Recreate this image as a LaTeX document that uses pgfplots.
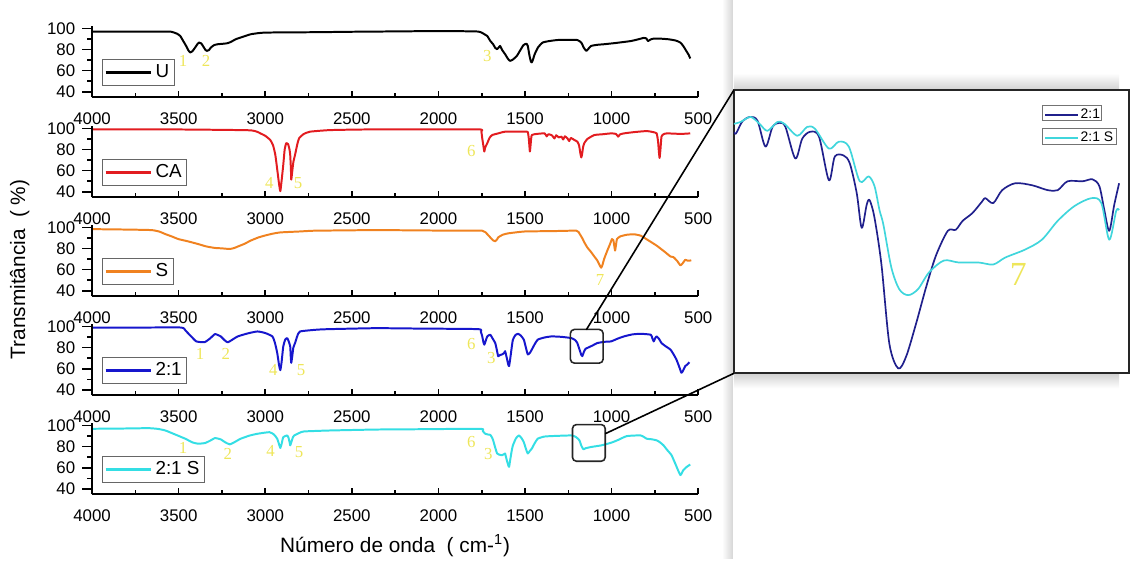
\documentclass[border=0pt]{standalone}
\usepackage{fontspec}
\setmainfont{Liberation Sans}
\newfontfamily\numserif{Liberation Serif}
\usepackage{pgfplots}
\usepackage{pgfplotstable}
\pgfplotsset{compat=1.18}

\definecolor{cU}{RGB}{0,0,0}
\definecolor{cCA}{RGB}{226,28,32}
\definecolor{cS}{RGB}{240,130,32}
\definecolor{cTwo}{RGB}{22,22,205}
\definecolor{cTwoS}{RGB}{52,222,228}
\definecolor{cNavy}{RGB}{32,32,140}
\definecolor{cCyan}{RGB}{64,214,220}
\definecolor{annY}{RGB}{238,230,90}

% ---- spectra (wavenumber, transmittance) ----
\pgfplotstableread{
x y
4000 97
3800 97
3600 97
3542 96.8
3510 95
3491 92.8
3470 87
3457 83.4
3445 79.5
3434 77.2
3420 78.5
3405 81.9
3390 85.5
3382 86.6
3370 85.8
3360 83.4
3345 79.5
3337 78.7
3325 79.5
3314 81.9
3295 84.2
3274 85
3240 85.5
3217 86
3195 87.5
3171 89.7
3130 92
3085 94.4
3040 95.5
3005 96
2900 96.2
2700 96.4
2500 96.8
2200 97.2
2016 97.5
1900 97.4
1770 97
1745 95.5
1730 94
1718 92.8
1700 88
1684 85
1672 81.5
1661 80.3
1652 81.8
1644 83.4
1630 79
1615 75.6
1600 71.5
1587 69.3
1570 70.5
1547 74
1525 80
1510 84
1501 85
1492 85.5
1484 83.4
1474 74
1466 68.5
1461 67.8
1455 70
1444 75.6
1425 82
1398 86.6
1360 88
1312 89
1250 89.2
1198 89
1175 86.5
1160 81.5
1146 78.7
1135 80.5
1118 83.4
1080 84.5
1043 85
970 86.3
889 88
850 89.5
814 91
800 90.6
790 88
775 89.5
757 90.3
720 90.3
672 89.7
630 88.5
603 86.6
585 83
569 78.7
555 75
546 71.5
}\dU

\pgfplotstableread{
x y
4000 99
3500 99
3102 98.3
3050 97
3028 95.3
3000 93
2971 89
2955 84
2942 75
2930 60
2920 47
2913 40.6
2906 50
2896 65.6
2888 80
2879 86
2868 85
2860 80
2856 75
2852 62
2850 51.5
2845 58
2838 68
2828 75
2815 85
2805 90.6
2780 94.5
2742 96.9
2627 98.4
2416 99
2000 99
1758 99
1752 97
1747 90.6
1740 83
1735 78.1
1730 82
1718 86
1705 91
1690 93.7
1650 95.5
1615 96.9
1500 96.9
1484 96.5
1478 90
1472 78.1
1467 86
1461 93.7
1430 94.8
1387 95.3
1375 92.5
1365 94.5
1345 93.5
1330 90.5
1320 93.5
1305 91.5
1289 92.2
1280 89.5
1270 92.5
1255 90.6
1245 88
1235 91
1215 89
1198 87.5
1188 84
1180 76
1175 72.5
1170 76
1165 82
1158 86
1140 90
1100 93.7
1050 94.5
1003 95.3
975 94.8
962 92.2
952 94.3
929 95.3
870 96.5
797 97.5
760 96.5
740 95.3
732 88
727 78
723 72
718 80
712 92.2
700 94.5
680 95.3
600 94.8
546 95.3
}\dCA

\pgfplotstableread{
x y
4000 98.4
3800 98
3657 97.5
3610 96
3577 93.7
3540 91.5
3502 89
3450 87
3388 84.3
3340 82
3291 80.6
3250 80.2
3205 79.6
3180 80.5
3159 81.9
3120 84.5
3085 87.5
3040 90.5
3005 92.2
2960 94
2913 95.3
2800 96.2
2719 96.9
2500 97.3
2359 97.5
2100 97.2
1900 96.9
1747 96.9
1720 94
1701 90.6
1685 87.8
1672 86.9
1662 88.5
1655 90.6
1630 93
1598 94.4
1501 96.2
1350 96.5
1203 96.9
1185 94
1170 90
1158 86
1140 81
1118 76.6
1100 72.5
1083 68.8
1070 64.5
1060 61.9
1052 65
1043 70.3
1025 78
1009 84.3
998 89
990 88
985 83
980 78.1
975 83
969 89
950 91.5
912 93.1
870 93.5
832 92.2
790 88
740 82.8
690 76.5
660 72.5
643 71.9
620 68
603 64.1
590 66
575 69.3
560 68.5
540 68.8
}\dS

\pgfplotstableread{
x y
4000 99
3700 99
3485 99
3460 96
3428 90.6
3399 85.9
3370 85.2
3348 85.3
3320 88.5
3291 92.8
3275 92
3257 90.6
3235 87
3217 85
3195 87
3159 90.6
3100 93.5
3045 95.3
3000 93.8
2959 90.6
2945 85
2931 75
2920 63
2913 58.7
2906 66
2896 81.2
2885 87.5
2873 89
2865 86
2856 81.2
2853 72
2850 65.6
2844 72
2838 80
2828 84.3
2815 91
2799 95.3
2700 97
2627 97.5
2359 98.4
2100 98
1770 97.5
1755 95
1747 90.6
1740 85
1735 82.8
1728 86
1718 90.6
1701 92.2
1685 88
1672 84.3
1663 78
1655 71.9
1645 73
1633 73.5
1620 75
1615 76.6
1605 70
1597 64
1592 62.5
1585 70
1577 80
1570 87.5
1555 92
1541 93.1
1525 91.5
1507 87.5
1495 80
1484 73.5
1472 75
1461 78.1
1445 83
1427 87.5
1390 89.5
1347 90.6
1290 90.2
1232 89
1210 87
1198 84.3
1185 78
1175 73
1169 71.9
1160 76
1150 79
1140 79.7
1110 82
1083 84.3
1040 85.5
1003 85.9
965 88.5
929 90.6
880 92.5
832 93.1
774 92.2
765 89
757 85.9
748 89
740 90.6
725 88
712 84.3
690 81.5
660 78.1
640 73
626 68.8
610 62
597 56.2
588 58
575 62.5
563 64
551 66.2
}\dTwo

\pgfplotstableread{
x y
4000 96.9
3800 97.2
3674 97.5
3620 96.8
3577 95.3
3520 91.5
3462 87.5
3420 84
3388 82.8
3348 83.4
3320 85.5
3291 88.1
3270 87.5
3257 86.9
3230 84
3205 82.2
3175 84.5
3142 87.5
3090 90.5
3045 92.2
2976 93.7
2950 91.5
2931 87.5
2920 82
2913 78.7
2905 83
2896 89
2873 90.6
2865 88
2858 83
2856 81.2
2850 84
2840 89
2833 90.6
2800 93.2
2776 94.4
2627 95.3
2359 96.2
2100 96.5
1758 96.9
1745 95
1730 92.2
1715 91.5
1701 91.2
1690 88.5
1684 86
1672 79
1661 73.5
1650 72.5
1633 71.9
1620 73
1615 73.5
1605 67
1597 62.5
1592 60.9
1585 68
1577 76
1570 81.2
1552 88
1535 90.6
1520 88
1507 84.3
1495 78
1484 73.5
1472 76
1461 78.1
1445 83
1427 87.5
1390 89.5
1347 90
1232 90.6
1205 89
1186 86
1175 81
1163 77.5
1150 78.5
1118 79.7
1060 81.2
1003 83.7
960 86.5
912 90
832 90.6
797 87.5
770 87
740 86
720 84
700 81.2
680 77
654 71.9
630 63
603 53.1
586 57.8
565 61
546 63.1
}\dTwoS

% ---- inset (zoomed region) ----
\pgfplotstableread{
x y
1240 93.67
1239 93.37
1235.5 95.33
1231.5 95.93
1228 95.33
1224 91.42
1220.4 94.42
1216.9 95.03
1213.9 94.42
1208.9 89.62
1205.4 92.62
1201.4 93.67
1196.9 92.92
1191.9 86.31
1188.9 89.92
1184.4 90.07
1181.3 88.86
1177.8 84.35
1175.3 79.09
1172.8 82.55
1171.3 83.30
1168.8 80.60
1165.3 73.53
1161.3 61.51
1156.8 57.75
1152.8 59.56
1147.8 64.52
1142.7 70.08
1137.7 74.89
1131.7 78.64
1127.7 78.79
1124.2 80.15
1119.2 81.35
1114.2 83.15
1112.7 83.60
1108.7 82.85
1104.2 84.81
1097.6 85.86
1089.1 85.56
1081.1 84.81
1076.1 84.81
1071.1 86.16
1063.5 86.16
1058.5 86.46
1055.0 85.41
1052.5 81.80
1050.0 78.64
1047.5 82.55
1045.0 85.86
}\dInTwo

\pgfplotstableread{
x y
1240 94.88
1236.5 95.18
1231.5 95.93
1227.0 94.88
1223.0 93.82
1217.9 95.18
1214.4 94.88
1207.9 93.07
1202.9 94.42
1198.9 94.12
1191.9 91.12
1186.9 92.17
1181.8 91.42
1176.3 86.16
1171.8 86.91
1168.8 85.41
1166.3 81.80
1164.3 79.55
1160.3 73.08
1156.3 69.78
1151.8 68.87
1146.8 69.78
1141.2 72.33
1133.7 74.13
1126.2 73.83
1116.2 73.83
1108.7 73.53
1102.6 74.59
1092.6 75.79
1084.1 77.29
1076.1 80.15
1067.6 82.40
1059.0 83.60
1054.0 82.85
1050.0 77.29
1046.5 81.65
1045.0 81.80
}\dInTwoS

\pgfplotsset{
  panel/.style={
    scale only axis, width=306pt, height=35.733pt,
    xmin=500, xmax=4000, x dir=reverse, ymin=35, ymax=102,
    anchor=south west, clip=false,
    axis x line*=bottom, axis y line*=left,
    axis line style={line width=0.8pt},
    every tick/.style={black, line width=0.8pt},
    ticklabel style={font=\fontsize{8.5}{9}\selectfont},
    /pgf/number format/1000 sep={},
    /pgf/number format/assume math mode=true,
  },
  xpart/.style={
    panel,
    xtick={500,1000,...,4000}, minor x tick num=1, ytick=\empty,
    tick align=inside, major tick length=3pt, minor tick length=2pt,
    xticklabel shift=4.5pt,
    legend style={at={(0.0163,0.16)}, anchor=south west,
      draw=black!60, line width=0.5pt, inner sep=1pt,
      font=\fontsize{9.5}{11}\selectfont, nodes={inner sep=1.5pt}},
    legend cell align=left,
    legend image code/.code={\draw[##1, line width=1.3pt] (0pt,0pt) -- (23pt,0pt);},
  },
  ypart/.style={
    panel, axis x line=none, xtick=\empty,
    ytick={40,60,80,100}, minor y tick num=1,
    tick align=outside, major tick length=5pt, minor tick length=2.5pt,
  },
  spec/.style={line width=1pt, line join=round, smooth, tension=0.3},
}
\tikzset{ann/.style={font=\numserif\fontsize{8.5}{9}\selectfont, text=annY, inner sep=0pt}}

\begin{document}
\begin{tikzpicture}
% page coordinates: 1 unit = 0.5pt = 1 px of the 1130x564 picture
\begin{scope}[x=0.5pt, y=0.5pt]
\useasboundingbox (0,0) rectangle (1130,564);
\shade[left color=white, right color=black!16] (729,0) rectangle (740,564);
\shade[top color=white, bottom color=black!18] (741,473) rectangle (1130,490);
\shade[top color=black!18, bottom color=white] (741,172) rectangle (1130,187);
\end{scope}

% U
\begin{axis}[xpart, at={(46.5pt,233pt)}]
\addplot[spec, cU] table {\dU};
\addlegendentry{U}
\node[ann] at (axis cs:3474,69) {1};
\node[ann] at (axis cs:3342,69) {2};
\node[ann] at (axis cs:1718,73.7) {3};
\end{axis}
\begin{axis}[ypart, at={(46.5pt,233pt)}]\end{axis}

% CA
\begin{axis}[xpart, at={(46.5pt,182.5pt)}]
\addplot[spec, cCA] table {\dCA};
\addlegendentry{CA}
\node[ann] at (axis cs:2976,48.4) {4};
\node[ann] at (axis cs:2810,48) {5};
\node[ann] at (axis cs:1810,78.4) {6};
\end{axis}
\begin{axis}[ypart, at={(46.5pt,182.5pt)}]\end{axis}

% S
\begin{axis}[xpart, at={(46.5pt,132.5pt)}]
\addplot[spec, cS] table {\dS};
\addlegendentry{S}
\node[ann] at (axis cs:1066,50.3) {7};
\end{axis}
\begin{axis}[ypart, at={(46.5pt,132.5pt)}]\end{axis}

% 2:1
\begin{axis}[xpart, at={(46.5pt,82.5pt)}]
\addplot[spec, cTwo] table {\dTwo};
\addlegendentry{2:1}
\node[ann] at (axis cs:3377,73.7) {1};
\node[ann] at (axis cs:3228,73.7) {2};
\node[ann] at (axis cs:2953,58.7) {4};
\node[ann] at (axis cs:2793,58.7) {5};
\node[ann] at (axis cs:1810,83) {6};
\node[ann] at (axis cs:1695,70) {3};
\draw[black!85, line width=0.8pt, rounded corners=2pt] (axis cs:1238,97.2) rectangle (axis cs:1049,65.3);
\end{axis}
\begin{axis}[ypart, at={(46.5pt,82.5pt)}]\end{axis}

% 2:1 S
\begin{axis}[xpart, at={(46.5pt,32.5pt)}]
\addplot[spec, cTwoS] table {\dTwoS};
\addlegendentry{2:1 S}
\node[ann] at (axis cs:3474,78.4) {1};
\node[ann] at (axis cs:3216,72.7) {2};
\node[ann] at (axis cs:2970,75.5) {4};
\node[ann] at (axis cs:2805,74.7) {5};
\node[ann] at (axis cs:1810,84) {6};
\node[ann] at (axis cs:1712,72.7) {3};
\draw[black!85, line width=0.8pt, rounded corners=2pt] (axis cs:1226,100.9) rectangle (axis cs:1037,66.2);
\end{axis}
\begin{axis}[ypart, at={(46.5pt,32.5pt)}]\end{axis}

% inset
\begin{axis}[
  scale only axis, width=199.5pt, height=143pt,
  at={(370.5pt,93.5pt)}, anchor=south west,
  xmin=1040, xmax=1240, x dir=reverse, ymin=57, ymax=100,
  xtick=\empty, ytick=\empty,
  axis background/.style={fill=white},
  axis line style={line width=1pt, black!85},
  legend style={at={(0.7845,0.944)}, anchor=north west, draw=none, fill=none,
    inner sep=0pt, row sep=3.25pt, font=\fontsize{7}{8}\selectfont,
    nodes={inner sep=1pt, text height=5pt, text depth=1.5pt}},
  legend cell align=left,
  legend image code/.code={\draw[#1, line width=0.9pt] (0pt,0pt) -- (16.5pt,0pt);},
]
\addplot[cNavy, line width=0.85pt, line join=round, smooth, tension=0.5] table {\dInTwo};
\addlegendentry{2:1}
\addplot[cCyan, line width=0.85pt, line join=round, smooth, tension=0.5] table {\dInTwoS};
\addlegendentry{2:1 S}
\node[font=\numserif\fontsize{17}{17}\selectfont, text=annY] at (axis cs:1096,72) {7};
\end{axis}

\begin{scope}[x=0.5pt, y=0.5pt]
\draw[black!55, line width=0.5pt] (1053,457) rectangle (1112,442);
\draw[black!55, line width=0.5pt] (1053,434) rectangle (1127,418);
\draw[black, line width=0.8pt] (592,231) -- (741,473);
\draw[black, line width=0.8pt] (611,126) -- (741,187);
\node[rotate=90, font=\fontsize{10.5}{12}\selectfont] at (20,292) {Transmitância~~(~\%)};
\node[font=\fontsize{10.5}{12}\selectfont] at (399,13) {Número de onda~~(~cm-\textsuperscript{1})};
\end{scope}
\end{tikzpicture}
\end{document}
